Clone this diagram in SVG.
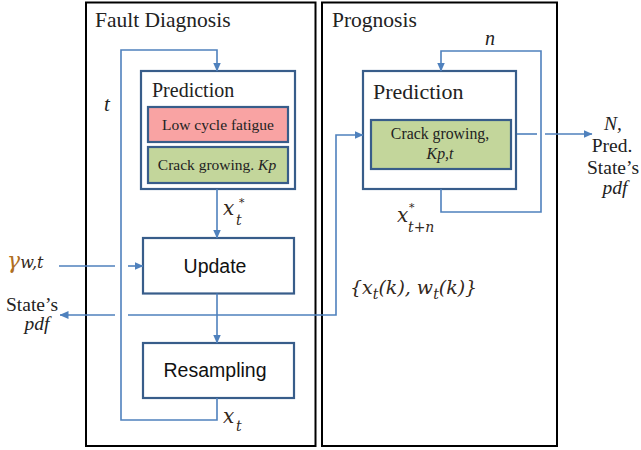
<svg xmlns="http://www.w3.org/2000/svg" width="641" height="450" viewBox="0 0 641 450">
<style>
.frame{fill:#fff;stroke:#000;stroke-width:2}
.box{fill:#fff;stroke:#385D8A;stroke-width:2.2}
.pink{fill:#F9A3A3;stroke:#385D8A;stroke-width:2.2}
.green{fill:#C3D69B;stroke:#385D8A;stroke-width:2.2}
.conn path{fill:none;stroke:#4F81BD;stroke-width:1.6}
.serif{font-family:"Liberation Serif","Times New Roman",serif;fill:#222}
.sans{font-family:"Liberation Sans",Arial,sans-serif;fill:#111}
.math{font-family:"DejaVu Serif","Liberation Serif",serif;font-style:italic;fill:#33281b}
.it{font-style:italic}
</style>
<defs>
<marker id="ah" markerWidth="9" markerHeight="8" refX="8.5" refY="4" orient="auto" markerUnits="userSpaceOnUse">
<path d="M0,0 L9,4 L0,8 Z" fill="#4F81BD"/>
</marker>
</defs>
<rect width="641" height="450" fill="#fff"/>
<g id="fault-diagnosis">
<rect class="frame" x="86" y="2.5" width="229.5" height="443.5"/>
<text class="serif" x="95" y="27" font-size="21.5">Fault Diagnosis</text>
</g>
<g id="prognosis">
<rect class="frame" x="322" y="2.5" width="235" height="443.5"/>
<text class="serif" x="332" y="27" font-size="21.5">Prognosis</text>
</g>
<g id="fd-prediction">
<rect class="box" x="141" y="71" width="154" height="118"/>
<text class="serif" x="152" y="97" font-size="20">Prediction</text>
</g>
<g id="low-cycle-fatigue">
<rect class="pink" x="148" y="107" width="140" height="35"/>
<text class="serif" x="218" y="130" font-size="15.5" text-anchor="middle">Low cycle fatigue</text>
</g>
<g id="fd-crack-growing">
<rect class="green" x="148" y="147" width="140" height="36"/>
<text class="serif" x="217" y="170" font-size="15.5" text-anchor="middle">Crack growing. <tspan class="it">Kp</tspan></text>
</g>
<g id="update">
<rect class="box" x="143" y="238" width="151" height="55.5"/>
<text class="sans" x="215" y="273" font-size="19.5" text-anchor="middle">Update</text>
</g>
<g id="resampling">
<rect class="box" x="143" y="343" width="151" height="55"/>
<text class="sans" x="215" y="377" font-size="19.5" text-anchor="middle">Resampling</text>
</g>
<g id="pg-prediction">
<rect class="box" x="363" y="71" width="153" height="118"/>
<text class="serif" x="373" y="99" font-size="22">Prediction</text>
</g>
<g id="pg-crack-growing">
<rect class="green" x="371" y="120" width="140" height="49"/>
<text class="serif" x="440" y="139" font-size="15.8" text-anchor="middle">Crack growing,</text>
<text class="serif it" x="440" y="159" font-size="15.8" text-anchor="middle">Kp,t</text>
</g>
<g id="connectors" class="conn">
<path d="M217,398 V420 H121 V50 H217 V71" marker-end="url(#ah)"/>
<path d="M217,189 V238" marker-end="url(#ah)"/>
<path d="M217,293.5 V343" marker-end="url(#ah)"/>
<path d="M59,266 H115"/>
<path d="M128,266 H143" marker-end="url(#ah)"/>
<path d="M128,315 H336 V135 H363" marker-end="url(#ah)"/>
<path d="M115,315 H60" marker-end="url(#ah)"/>
<path d="M441,189 V212 H541 V51 H441 V71" marker-end="url(#ah)"/>
<path d="M517,134 H537"/>
<path d="M545,134 H592" marker-end="url(#ah)"/>
</g>
<g id="labels">
<text class="serif it" x="104" y="111" font-size="21">t</text>
<text class="serif it" x="485" y="45" font-size="20">n</text>
<text class="math" x="223" y="215" font-size="20">x</text>
<text class="math" x="239" y="206" font-size="11" font-style="normal">*</text>
<text class="math" x="236" y="225" font-size="14">t</text>
<text class="math" x="223" y="423" font-size="20">x</text>
<text class="math" x="236" y="431" font-size="14">t</text>
<text class="math" x="397" y="222" font-size="20">x</text>
<text class="math" x="409" y="211" font-size="11" font-style="normal">*</text>
<text class="math" x="408" y="232" font-size="14">t+n</text>
<text class="math" x="350" y="294" font-size="19">{x<tspan font-size="14" dy="5">t</tspan><tspan dy="-5">(k), w</tspan><tspan font-size="14" dy="5">t</tspan><tspan dy="-5">(k)}</tspan></text>
<text class="math" x="7" y="268" font-size="22"><tspan fill="#B0701F">γ</tspan><tspan font-size="16">w,t</tspan></text>
<text class="serif" x="32" y="311" font-size="19.5" text-anchor="middle">State’s</text>
<text class="serif it" x="37" y="330" font-size="19.5" text-anchor="middle">pdf</text>
<text class="serif it" x="613" y="130" font-size="19.5" text-anchor="middle">N,</text>
<text class="serif" x="612" y="152" font-size="19.5" text-anchor="middle">Pred.</text>
<text class="serif" x="613" y="174" font-size="19.5" text-anchor="middle">State’s</text>
<text class="serif it" x="615" y="194" font-size="19.5" text-anchor="middle">pdf</text>
</g>
</svg>
